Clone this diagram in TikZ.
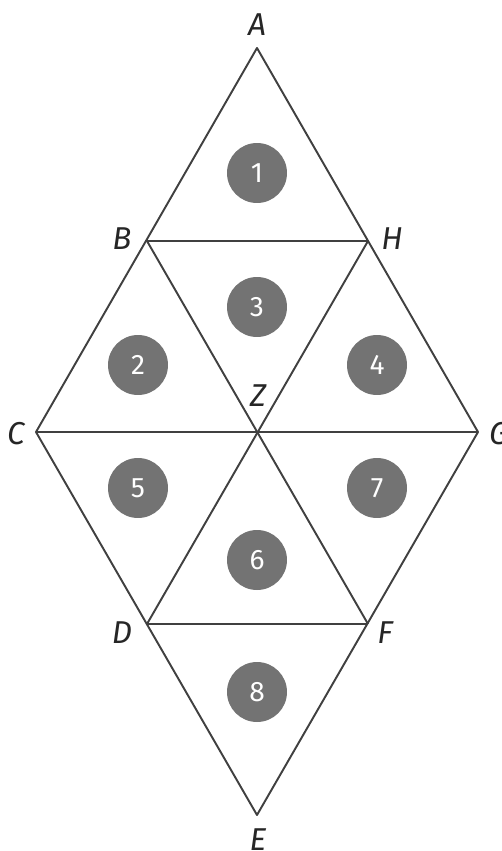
\documentclass[tikz,border=0pt]{standalone}
\usepackage{fontspec}
\setmainfont{Fira Sans}
\usetikzlibrary{positioning}

\begin{document}
\begin{tikzpicture}[x=0.02cm,y=-0.02cm,
  vlabel/.style={font=\fontsize{18}{18}\selectfont\itshape,text=black!85},
  edge/.style={draw=black!75,line width=1.1pt,line join=round},
  region/.style={circle,fill=black!55,minimum size=1.2cm,inner sep=0pt,text=white,font=\fontsize{16}{16}\selectfont}
]
\useasboundingbox (0,0) rectangle (502,851);
\coordinate (A) at (257,48);
\coordinate (B) at (147,241);
\coordinate (H) at (368,241);
\coordinate (C) at (36,432);
\coordinate (Z) at (257,432);
\coordinate (G) at (478,432);
\coordinate (D) at (147,624);
\coordinate (F) at (368,624);
\coordinate (E) at (257,815);
% outline and inner lines
\draw[edge] (A) -- (G) -- (E) -- (C) -- cycle;
\draw[edge] (B) -- (H);
\draw[edge] (C) -- (G);
\draw[edge] (D) -- (F);
\draw[edge] (B) -- (F);
\draw[edge] (H) -- (D);
% vertex labels
\node[vlabel] (lA) at (257,25) {A};
\node[vlabel] (lB) at (122,239) {B};
\node[vlabel] (lH) at (392,239) {H};
\node[vlabel] (lC) at (16,434) {C};
\node[vlabel] (lZ) at (258,396) {Z};
\node[vlabel] (lG) at (499,434) {G};
\node[vlabel] (lD) at (122,633) {D};
\node[vlabel] (lF) at (385,633) {F};
\node[vlabel] (lE) at (258,840) {E};
% regions
\node[region] (r1) at (257,173) {1};
\node[region] (r2) at (138,365) {2};
\node[region] (r3) at (257,307) {3};
\node[region] (r4) at (377,365) {4};
\node[region] (r5) at (138,488) {5};
\node[region] (r6) at (257,560) {6};
\node[region] (r7) at (377,488) {7};
\node[region] (r8) at (257,692) {8};
\end{tikzpicture}
\end{document}
